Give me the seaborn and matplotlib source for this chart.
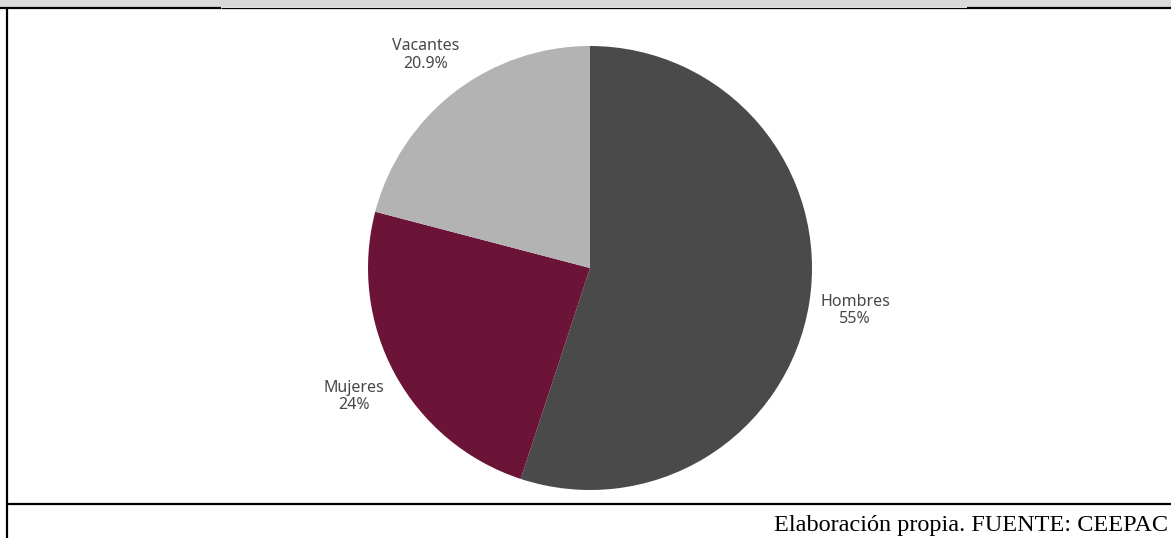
import matplotlib
matplotlib.use("Agg")
import matplotlib.pyplot as plt
import seaborn as sns
import numpy as np

sns.set_theme(style="white")
plt.rcParams['font.family'] = ['Noto Sans', 'DejaVu Sans']

# Data
categories = ["Hombres", "Mujeres", "Vacantes"]
values = [55.0, 24.0, 20.9]
pct_labels = ["55%", "24%", "20.9%"]
colors = ["#4a4a4a", "#6b1438", "#b3b3b3"]
source_text = "Elaboración propia. FUENTE: CEEPAC"

W, H = 1171, 538
fig = plt.figure(figsize=(W / 100, H / 100), dpi=100)
fig.patch.set_facecolor("white")

# Background / frame axes in pixel coordinates
bg = fig.add_axes([0, 0, 1, 1])
bg.set_xlim(0, W)
bg.set_ylim(H, 0)
bg.axis("off")
bg.add_patch(plt.Rectangle((0, 0), W, 7, color="#d9d9d9", lw=0))
bg.plot([0, 221], [7.5, 7.5], color="black", lw=1.6, solid_capstyle="butt")
bg.plot([221, 967], [7.5, 7.5], color="black", lw=0.9, solid_capstyle="butt")
bg.plot([967, W], [7.5, 7.5], color="black", lw=1.6, solid_capstyle="butt")
bg.plot([7, 7], [7, H], color="black", lw=1.6, solid_capstyle="butt")
bg.plot([7, W], [503.5, 503.5], color="black", lw=1.6, solid_capstyle="butt")

t = bg.text(1168, 531, source_text, ha="right", va="baseline",
            fontsize=17.5, family=["Liberation Serif", "DejaVu Serif"], color="black")

# Pie axes
cx, cy, r = 590, 268, 222
ax = fig.add_axes([(cx - r) / W, (H - cy - r) / H, 2 * r / W, 2 * r / H])
labels = [f"{c}\n{p}" for c, p in zip(categories, pct_labels)]
wedges, texts = ax.pie(values, colors=colors, startangle=90, counterclock=False,
                       labels=labels, labeldistance=1.21,
                       wedgeprops=dict(linewidth=0),
                       textprops=dict(fontsize=11.5, color="#474747", linespacing=1.15))
for tx in texts:
    tx.set_ha("center")
    tx.set_va("center")
ax.set_xlim(-1, 1)
ax.set_ylim(-1, 1)
ax.set_aspect("equal")
ax.axis("off")

fig.savefig("out.png", dpi=100, facecolor="white")
